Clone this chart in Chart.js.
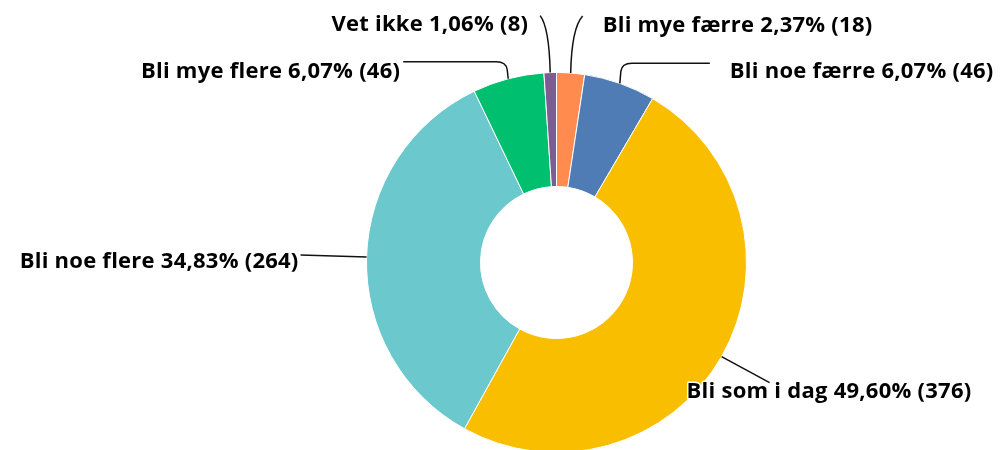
<!DOCTYPE html>
<html>
<head>
<meta charset="utf-8">
<script src="https://cdn.jsdelivr.net/npm/chart.js@4/dist/chart.umd.min.js"></script>
<style>
html,body{margin:0;padding:0;overflow:hidden;background:#fff;}
#wrap{position:relative;width:1001px;height:453px;}
</style>
</head>
<body>
<div id="wrap"><canvas id="c"></canvas></div>
<script>
// ---- data ----
const categories = ["Bli mye færre", "Bli noe færre", "Bli som i dag", "Bli noe flere", "Bli mye flere", "Vet ikke"];
const counts = [18, 46, 376, 264, 46, 8];
const percents = [2.37, 6.07, 49.60, 34.83, 6.07, 1.06];
const colors = ["#FF8B4F", "#507CB6", "#F9BE00", "#6BC8CD", "#00BF6F", "#7D5C91"];

// label placement hints (offsets from slice anchor point)
const labelLayout = [
  {type: "hookR", ex: 12, ey: -57, tx: 20, ty: 15.5, align: "left"},
  {type: "elbowR", ex: 90, ey: -20, tx: 20, ty: 14.5, align: "left"},
  {type: "straight", ex: 48, ey: 26, tx: -83, ty: 15, align: "left"},
  {type: "straight", ex: -66, ey: -2, tx: -2, ty: 12.7, align: "right"},
  {type: "elbowL", ex: -105, ey: -17, tx: -3, ty: 16.5, align: "right"},
  {type: "hookL", ex: -10, ey: -57, tx: -12, ty: 15.5, align: "right"}
];

function fmt(p){ return p.toFixed(2).replace(".", ","); }

const labelPlugin = {
  id: "leaderLabels",
  afterDatasetsDraw(chart){
    const ctx = chart.ctx;
    const meta = chart.getDatasetMeta(0);
    ctx.save();
    meta.data.forEach((arc, i) => {
      const p = arc.getProps(["x","y","startAngle","endAngle","outerRadius"], true);
      const mid = (p.startAngle + p.endAngle) / 2;
      const ax = p.x + Math.cos(mid) * p.outerRadius;
      const ay = p.y + Math.sin(mid) * p.outerRadius;
      const L = labelLayout[i];
      const ex = ax + L.ex, ey = ay + L.ey;
      ctx.beginPath();
      ctx.strokeStyle = "#111";
      ctx.lineWidth = 1.5;
      ctx.moveTo(ax, ay);
      if (L.type === "hookR" || L.type === "hookL") {
        const s = L.type === "hookR" ? 1 : -1;
        ctx.quadraticCurveTo(ax + s * 1, ey + 12, ex, ey);
      } else if (L.type === "elbowR" || L.type === "elbowL") {
        const s = L.type === "elbowR" ? 1 : -1;
        ctx.lineTo(ax + s * 1, ey + 8);
        ctx.quadraticCurveTo(ax + s * 2, ey, ax + s * 12, ey);
        ctx.lineTo(ex, ey);
      } else {
        ctx.lineTo(ex, ey);
      }
      ctx.stroke();
      const text = categories[i] + " " + fmt(percents[i]) + "% (" + counts[i] + ")";
      ctx.font = "700 22px 'Open Sans'";
      ctx.letterSpacing = "0.25px";
      ctx.textAlign = L.align;
      ctx.textBaseline = "alphabetic";
      const tx = ex + L.tx, ty = ey + L.ty;
      ctx.lineJoin = "round";
      ctx.strokeStyle = "#fff";
      ctx.lineWidth = 3;
      ctx.strokeText(text, tx, ty);
      ctx.fillStyle = "#000";
      ctx.fillText(text, tx, ty);
    });
    ctx.restore();
  }
};

new Chart(document.getElementById("c"), {
  type: "doughnut",
  data: {
    labels: categories,
    datasets: [{
      data: counts,
      backgroundColor: colors,
      borderColor: "#ffffff",
      borderWidth: 1
    }]
  },
  options: {
    responsive: true,
    maintainAspectRatio: false,
    animation: false,
    cutout: "40%",
    layout: {padding: {top: 72, bottom: 0, left: 112, right: 0}},
    plugins: {legend: {display: false}, tooltip: {enabled: false}}
  },
  plugins: [labelPlugin]
});
</script>
</body>
</html>
